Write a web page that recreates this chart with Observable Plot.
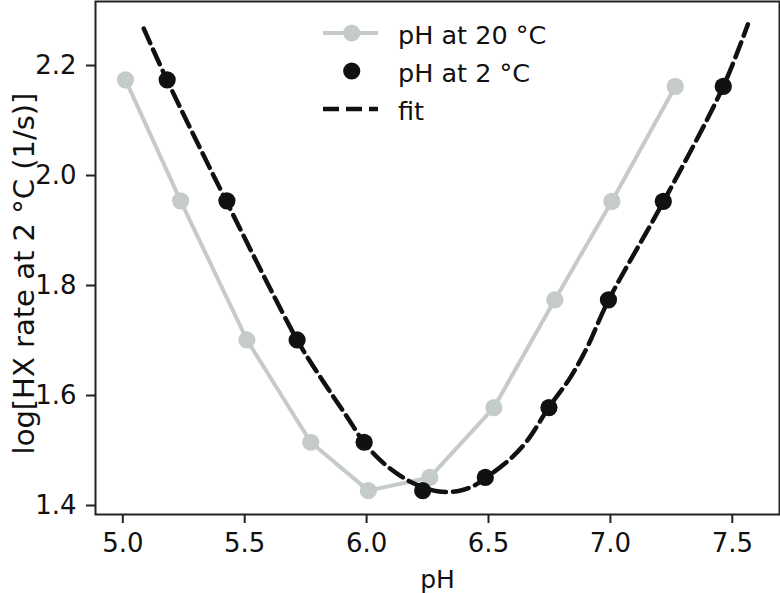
<!DOCTYPE html>
<html>
<head>
<meta charset="utf-8">
<script src="https://cdn.jsdelivr.net/npm/d3@7"></script>
<script src="https://cdn.jsdelivr.net/npm/@observablehq/plot@0.6"></script>
<style>
  html, body { margin: 0; padding: 0; background: #fff; }
  #wrap { position: relative; width: 780px; height: 593px; font-family: "DejaVu Sans", sans-serif; color: #111; }
  #legend { position: absolute; left: 322px; top: 14px; }
  .row { display: flex; align-items: center; height: 38px; }
  .row svg { width: 58px; height: 38px; flex: none; }
  .row span { margin-left: 18px; font-size: 25.5px; position: relative; top: 2px; white-space: nowrap; }
</style>
</head>
<body>
<div id="wrap">
  <div id="chart"></div>
  <div id="legend"></div>
</div>
<script>
// log HX rate values (shared by both pH scales)
const rates = [2.174, 1.954, 1.701, 1.515, 1.427, 1.451, 1.578, 1.774, 1.953, 2.162];
// pH measured at 20 °C
const ph20 = [5.011, 5.237, 5.509, 5.771, 6.007, 6.259, 6.522, 6.772, 7.006, 7.266];
// pH at 2 °C
const ph2 = [5.182, 5.427, 5.715, 5.990, 6.230, 6.487, 6.748, 6.992, 7.217, 7.463];
// fit curve
const fitPH = [5.086, 5.182, 5.425, 5.715, 5.783, 5.865, 5.920, 5.989, 6.057, 6.125, 6.194, 6.290, 6.372, 6.440, 6.488, 6.590, 6.659, 6.747, 6.836, 6.905, 6.991, 7.217, 7.463, 7.564];
const fitRate = [2.267, 2.173, 1.953, 1.701, 1.652, 1.597, 1.561, 1.515, 1.482, 1.458, 1.440, 1.426, 1.426, 1.436, 1.450, 1.485, 1.518, 1.578, 1.633, 1.688, 1.772, 1.952, 2.162, 2.275];
const xTicks = [5.0, 5.5, 6.0, 6.5, 7.0, 7.5];
const yTicks = [1.4, 1.6, 1.8, 2.0, 2.2];
const labels = { x: "pH", y: "log[HX rate at 2 °C (1/s)]" };
const legendLabels = ["pH at 20 °C", "pH at 2 °C", "fit"];

const GRAY = "#c5cbc9";
const BLACK = "#111111";

const d20 = ph20.map((p, i) => ({ x: p, y: rates[i] }));
const d2 = ph2.map((p, i) => ({ x: p, y: rates[i] }));
const dfit = fitPH.map((p, i) => ({ x: p, y: fitRate[i] }));

const chart = Plot.plot({
  width: 780,
  height: 593,
  marginLeft: 95,
  marginRight: 1,
  marginTop: 1,
  marginBottom: 79,
  style: { fontFamily: "DejaVu Sans", fontSize: "26px", background: "#fff", color: "#111" },
  x: { domain: [4.888, 7.6936], label: null },
  y: { domain: [1.38364, 2.3164], label: null },
  marks: [
    Plot.line(d20, { x: "x", y: "y", stroke: GRAY, strokeWidth: 4 }),
    Plot.dot(d20, { x: "x", y: "y", r: 8.6, fill: GRAY, stroke: "none" }),
    Plot.line(dfit, { x: "x", y: "y", stroke: BLACK, strokeWidth: 4.5, strokeDasharray: "16,7", curve: "catmull-rom" }),
    Plot.dot(d2, { x: "x", y: "y", r: 8.6, fill: BLACK, stroke: "none" }),
    Plot.frame({ stroke: "#222", strokeWidth: 2 }),
    Plot.axisX({ ticks: xTicks, tickFormat: d => d.toFixed(1), tickSize: 9, tickPadding: 10, fontSize: 26, strokeWidth: 2, stroke: "#222", label: null }),
    Plot.axisY({ ticks: yTicks, tickFormat: d => d.toFixed(1), tickSize: 9, tickPadding: 10, fontSize: 26, strokeWidth: 2, stroke: "#222", label: null }),
    Plot.text([labels.x], { text: d => d, frameAnchor: "bottom", dy: 65, fontSize: 25, lineAnchor: "middle", fill: "#111" }),
    Plot.text([labels.y], { text: d => d, frameAnchor: "left", textAnchor: "middle", rotate: -90, dx: -71, dy: 15.5, fontSize: 29, lineAnchor: "middle", fill: "#111" })
  ]
});
document.getElementById("chart").appendChild(chart);

// legend
const swatches = [
  `<line x1="1" x2="56" y1="19" y2="19" stroke="${GRAY}" stroke-width="4"/><circle cx="29.7" cy="19" r="8.6" fill="${GRAY}"/>`,
  `<circle cx="29.7" cy="19" r="8.6" fill="${BLACK}"/>`,
  `<line x1="1" x2="56" y1="19" y2="19" stroke="${BLACK}" stroke-width="4.5" stroke-dasharray="16,7"/>`
];
const leg = document.getElementById("legend");
legendLabels.forEach((t, i) => {
  const row = document.createElement("div");
  row.className = "row";
  row.innerHTML = `<svg viewBox="0 0 58 38">${swatches[i]}</svg><span></span>`;
  row.querySelector("span").textContent = t;
  leg.appendChild(row);
});
</script>
</body>
</html>
